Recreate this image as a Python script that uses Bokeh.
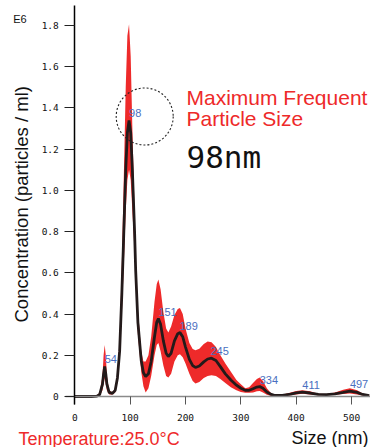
import numpy as np
from bokeh.plotting import figure
from bokeh.models import Range1d, FixedTicker, CustomJSTickFormatter, Label, ColumnDataSource
from bokeh.core.properties import value
from bokeh.embed import file_html
from bokeh.resources import INLINE

# ---- data, concentration in E6 particles/ml ----
size_nm = [0, 30, 40, 45, 50, 52, 54, 56, 58, 62, 68, 73, 77, 81, 85, 88, 92, 95, 98, 101,
           104, 108, 110, 114, 120, 124, 128, 133, 138, 144, 148, 151, 155, 160, 165, 169,
           174, 180, 186, 190, 195, 200, 207, 213, 218, 225, 233, 240, 247, 255, 263, 272,
           282, 292, 300, 308, 315, 322, 329, 334, 340, 347, 355, 362, 375, 390, 400, 411,
           425, 440, 455, 470, 485, 497, 510, 520, 532]
mean_conc = [0.000, 0.000, 0.002, 0.010, 0.060, 0.110, 0.146, 0.110, 0.060, 0.020, 0.015,
             0.030, 0.090, 0.220, 0.500, 0.750, 1.100, 1.280, 1.340, 1.280, 1.100, 0.800,
             0.610, 0.360, 0.175, 0.115, 0.097, 0.110, 0.170, 0.290, 0.360, 0.378, 0.350,
             0.270, 0.210, 0.194, 0.210, 0.270, 0.305, 0.310, 0.290, 0.240, 0.180, 0.150,
             0.141, 0.148, 0.168, 0.182, 0.186, 0.175, 0.145, 0.110, 0.080, 0.055, 0.040,
             0.030, 0.030, 0.038, 0.046, 0.048, 0.040, 0.022, 0.010, 0.005, 0.005, 0.012,
             0.018, 0.021, 0.017, 0.010, 0.009, 0.013, 0.020, 0.026, 0.020, 0.010, 0.004]
upper_conc = [0.003, 0.003, 0.005, 0.020, 0.100, 0.200, 0.250, 0.200, 0.100, 0.030, 0.020,
              0.040, 0.110, 0.280, 0.650, 1.000, 1.500, 1.750, 1.806, 1.650, 1.300, 0.900,
              0.680, 0.420, 0.220, 0.170, 0.170, 0.200, 0.290, 0.460, 0.545, 0.568, 0.520,
              0.410, 0.330, 0.310, 0.340, 0.395, 0.425, 0.430, 0.400, 0.330, 0.260, 0.230,
              0.225, 0.232, 0.255, 0.267, 0.263, 0.240, 0.200, 0.160, 0.120, 0.080, 0.060,
              0.040, 0.045, 0.065, 0.085, 0.092, 0.075, 0.040, 0.015, 0.007, 0.008, 0.020,
              0.027, 0.030, 0.025, 0.013, 0.012, 0.020, 0.033, 0.040, 0.030, 0.015, 0.006]
lower_conc = [0.000, 0.000, 0.000, 0.003, 0.030, 0.060, 0.090, 0.060, 0.030, 0.010, 0.010,
              0.020, 0.070, 0.180, 0.400, 0.600, 0.900, 1.050, 1.100, 1.050, 0.900, 0.700,
              0.550, 0.300, 0.120, 0.050, 0.020, 0.040, 0.100, 0.200, 0.250, 0.260, 0.220,
              0.150, 0.100, 0.092, 0.110, 0.170, 0.200, 0.205, 0.190, 0.160, 0.110, 0.075,
              0.063, 0.070, 0.090, 0.100, 0.103, 0.100, 0.085, 0.065, 0.045, 0.030, 0.022,
              0.018, 0.018, 0.020, 0.025, 0.027, 0.020, 0.008, 0.003, 0.002, 0.002, 0.006,
              0.010, 0.013, 0.010, 0.006, 0.006, 0.008, 0.012, 0.015, 0.010, 0.005, 0.002]

peak_sizes = [54, 98, 151, 189, 245, 334, 411, 497]
peak_labels = ["54", "98", "151", "189", "245", "334", "411", "497"]

x_ticks = [0, 100, 200, 300, 400, 500]
y_ticks = [0, 0.2, 0.4, 0.6, 0.8, 1.0, 1.2, 1.4, 1.6, 1.8]

RED = "#ee2a2a"
BLUE = "#4a6fc0"
MONO = "DejaVu Sans Mono"
SANS = "Liberation Sans"

src = ColumnDataSource(dict(x=size_nm, mean=mean_conc, up=upper_conc, lo=lower_conc))
peak_h = list(np.interp(peak_sizes, size_nm, mean_conc))
lab_src = ColumnDataSource(dict(x=peak_sizes, y=peak_h, t=peak_labels))

# the frame fills the whole canvas; the axes sit at fixed data locations
p = figure(width=370, height=447, output_backend="svg", toolbar_location=None,
           x_range=Range1d(-134.24, 534.24), y_range=Range1d(-0.2474, 1.9214),
           min_border_left=0, min_border_right=0, min_border_top=0, min_border_bottom=0)
p.outline_line_color = None
p.grid.visible = False
p.background_fill_color = "white"

p.varea(x="x", y1="lo", y2="up", source=src, fill_color=RED, fill_alpha=1.0)
p.line(x="x", y="mean", source=src, line_color="#231a1a", line_width=2.8)

p.text(x="x", y="y", text="t", source=lab_src, text_color=BLUE,
       text_font=value(SANS), text_font_size="11px", text_align="left",
       text_baseline="middle", x_offset=0, y_offset=-7)

# dotted circle around the maximum-frequency peak
p.circle(x=[126.3], y=[1.3586], radius=28.5, radius_units="screen",
         fill_color=None, line_color="#222222", line_width=1.1, line_dash="2 2")

# axes
xa = p.xaxis[0]
xa.fixed_location = 0
xa.bounds = (-16, 534.24)
xa.ticker = FixedTicker(ticks=x_ticks)
xa.axis_line_color = "#8a8a8a"
xa.axis_line_width = 1.5
xa.major_tick_line_color = "#555555"
xa.major_tick_out = 8
xa.major_tick_in = 0
xa.minor_tick_line_color = None
xa.major_label_text_font = MONO
xa.major_label_text_font_size = "9.5px"
xa.major_label_text_color = "#111111"
xa.major_label_standoff = 9

ya = p.yaxis[0]
ya.fixed_location = 0
ya.bounds = (-0.039, 1.897)
ya.ticker = FixedTicker(ticks=y_ticks)
ya.formatter = CustomJSTickFormatter(code="return tick == 0 ? '0' : tick.toFixed(1);")
ya.axis_line_color = "black"
ya.axis_line_width = 1.5
ya.major_tick_line_color = "#222222"
ya.major_tick_out = 10
ya.major_tick_in = 0
ya.minor_tick_line_color = None
ya.major_label_text_font = MONO
ya.major_label_text_font_size = "9.5px"
ya.major_label_text_color = "#111111"
ya.major_label_standoff = 6

def lab(text, x, y, size, color="black", font=SANS, align="left", angle=0.0):
    p.add_layout(Label(x=x, y=y, x_units="screen", y_units="screen", text=text,
                       text_font=font, text_font_size=size, text_color=color,
                       text_align=align, text_baseline="alphabetic", angle=angle))

lab("Maximum Frequent", 186, 350.3, "21px", RED)
lab("Particle Size", 186, 329, "21px", RED)
lab("98nm", 186, 291, "31px", "#111111", MONO)
lab("E6", 12.7, 429, "11px", "#111111", SANS)
lab("Size (nm)", 368, 10, "18px", "#111111", SANS, "right")
lab("Temperature:25.0°C", 18, 9, "18px", RED)
lab("Concentration (particles / ml)", 21, 125, "18.5px", "#111111", SANS, "left", np.pi / 2)

open("out.html", "w").write(file_html(p, INLINE))
